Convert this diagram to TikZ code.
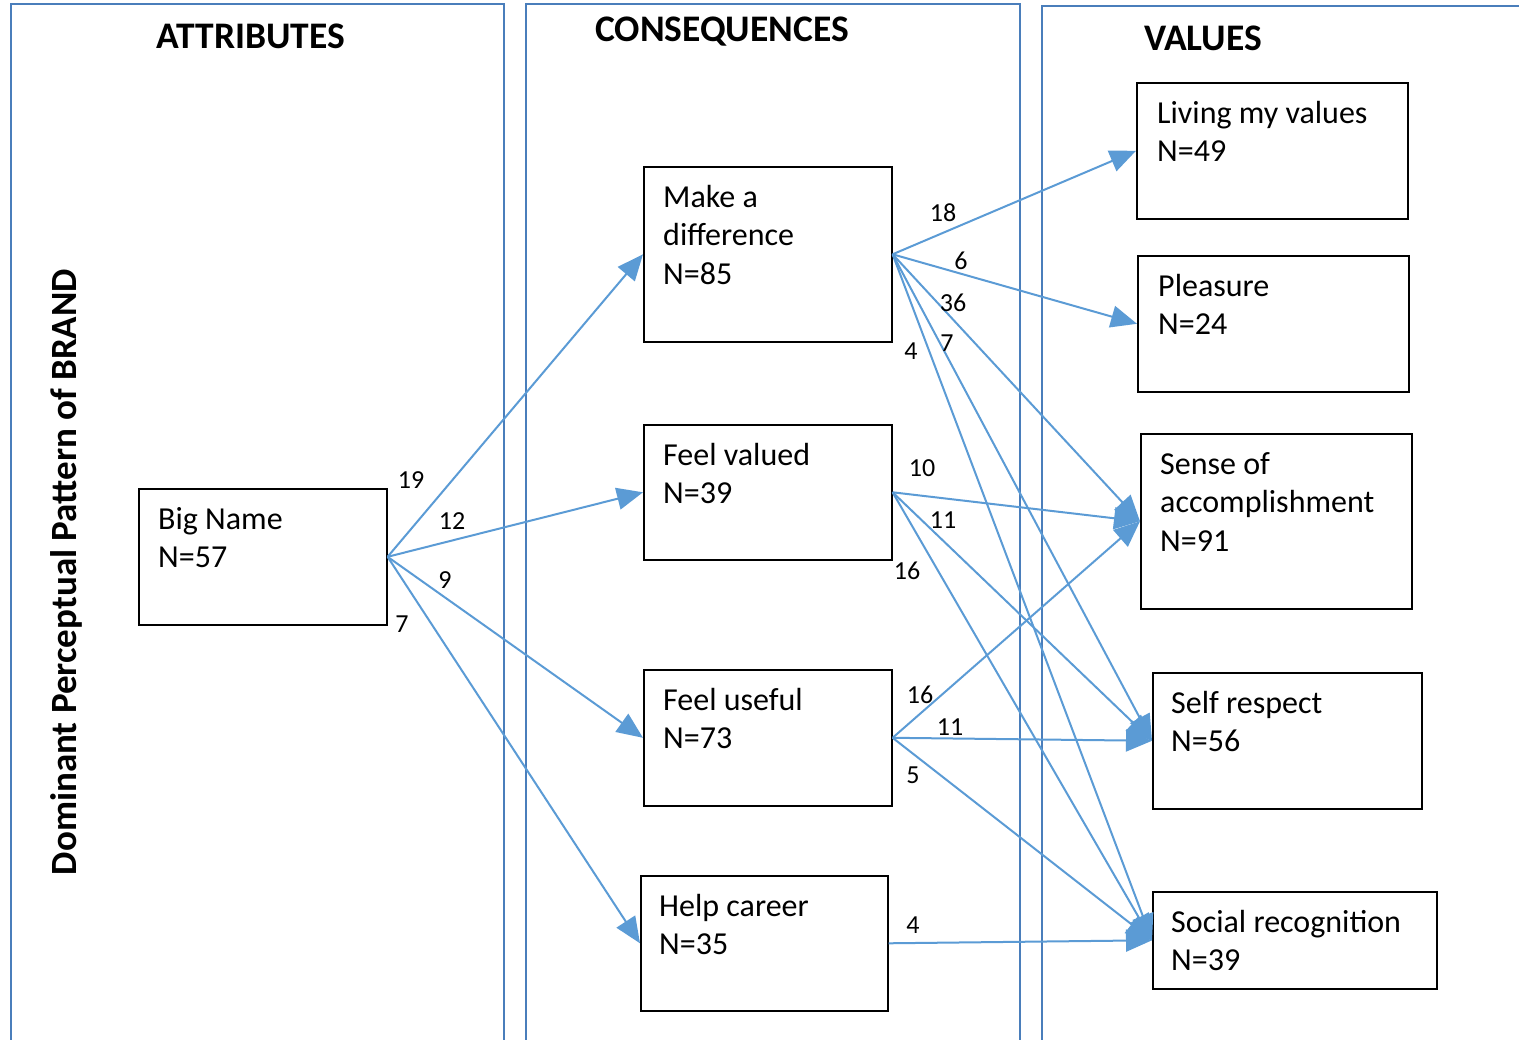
\documentclass[tikz,border=0pt]{standalone}
\usepackage{fontspec}
\setmainfont{Carlito}
\usetikzlibrary{arrows.meta,calc}
\definecolor{panelblue}{HTML}{4A7EBB}
\definecolor{arrowblue}{HTML}{5B9BD5}
\begin{document}
\begin{tikzpicture}[x=1pt,y=-1pt,
  panel/.style={draw=panelblue, line width=2.5pt},
  box/.style={draw=black, line width=1.6pt, inner sep=0, anchor=north west},
  boxtext/.style={anchor=north west, inner sep=0, align=left, font=\fontsize{32}{38.5}\selectfont},
  hdr/.style={font=\fontsize{37.5}{42}\selectfont\bfseries, inner sep=0},
  elabel/.style={font=\fontsize{26}{30}\selectfont, inner sep=0},
  conn/.style={draw=arrowblue, line width=2pt, -{Triangle[length=26pt,width=22pt]}}
]
\useasboundingbox (0,0) rectangle (1519,1040);
\clip (0,0) rectangle (1519,1040);
% panels
\draw[panel] (11,1050) -- (11,4) -- (504,4) -- (504,1050);
\draw[panel] (526,1050) -- (526,4) -- (1020,4) -- (1020,1050);
\draw[panel] (1042,1050) -- (1042,6) -- (1530,6);
% headers
\node[hdr] (hA) at (251,36) {ATTRIBUTES};
\node[hdr] (hC) at (722,32) {CONSEQUENCES};
\node[hdr] (hV) at (1203,38) {VALUES};
\node[hdr, font=\fontsize{37}{42}\selectfont\bfseries, rotate=90] (title) at (66,572) {Dominant Perceptual Pattern of BRAND};
% boxes
\node[box, minimum width=248pt, minimum height=136pt] (BN) at (138,488) {};
\node[box, minimum width=248pt, minimum height=175pt] (MD) at (643,166) {};
\node[box, minimum width=248pt, minimum height=135pt] (FV) at (643,424) {};
\node[box, minimum width=248pt, minimum height=136pt] (FU) at (643,669) {};
\node[box, minimum width=247pt, minimum height=135pt] (HC) at (640,875) {};
\node[box, minimum width=271pt, minimum height=136pt] (LV) at (1136,82) {};
\node[box, minimum width=271pt, minimum height=136pt] (PL) at (1137,255) {};
\node[box, minimum width=271pt, minimum height=175pt] (SA) at (1140,433) {};
\node[box, minimum width=269pt, minimum height=136pt] (SR) at (1152,672) {};
\node[box, minimum width=284pt, minimum height=97pt] (SC) at (1152,891) {};
% box texts
\node[boxtext] (BNt) at ($(BN.north west)+(20,14)$) {\strut Big Name\\N=57};
\node[boxtext] (MDt) at ($(MD.north west)+(20,14)$) {\strut Make a\\difference\\N=85};
\node[boxtext] (FVt) at ($(FV.north west)+(20,14)$) {\strut Feel valued\\N=39};
\node[boxtext] (FUt) at ($(FU.north west)+(20,14)$) {\strut Feel useful\\N=73};
\node[boxtext] (HCt) at ($(HC.north west)+(19,14)$) {\strut Help career\\N=35};
\node[boxtext] (LVt) at ($(LV.north west)+(21,14)$) {\strut Living my values\\N=49};
\node[boxtext] (PLt) at ($(PL.north west)+(21,14)$) {\strut Pleasure\\N=24};
\node[boxtext] (SAt) at ($(SA.north west)+(20,14)$) {\strut Sense of\\accomplishment\\N=91};
\node[boxtext] (SRt) at ($(SR.north west)+(19,14)$) {\strut Self respect\\N=56};
\node[boxtext] (SCt) at ($(SC.north west)+(19,14)$) {\strut Social recognition\\N=39};
% connectors
\draw[conn] (BN.east) -- (MD.west);
\draw[conn] (BN.east) -- (FV.west);
\draw[conn] (BN.east) -- (FU.west);
\draw[conn] (BN.east) -- (HC.west);
\draw[conn] (MD.east) -- (LV.west);
\draw[conn] (MD.east) -- (PL.west);
\draw[conn] (MD.east) -- (SA.west);
\draw[conn] (MD.east) -- (SR.west);
\draw[conn] (MD.east) -- (SC.west);
\draw[conn] (FV.east) -- (SA.west);
\draw[conn] (FV.east) -- (SR.west);
\draw[conn] (FV.east) -- (SC.west);
\draw[conn] (FU.east) -- (SA.west);
\draw[conn] (FU.east) -- (SR.west);
\draw[conn] (FU.east) -- (SC.west);
\draw[conn] (HC.east) -- (SC.west);
% edge labels
\node[elabel] (l1) at (411,480) {19};
\node[elabel] (l2) at (452,521) {12};
\node[elabel] (l3) at (445,580) {9};
\node[elabel] (l4) at (402,624) {7};
\node[elabel] (l5) at (943,213) {18};
\node[elabel] (l6) at (961,261) {6};
\node[elabel] (l7) at (953,303) {36};
\node[elabel] (l8) at (947,343) {7};
\node[elabel] (l9) at (911,351) {4};
\node[elabel] (l10) at (922,468) {10};
\node[elabel] (l11) at (943,520) {11};
\node[elabel] (l12) at (907,571) {16};
\node[elabel] (l13) at (920,695) {16};
\node[elabel] (l14) at (950,727) {11};
\node[elabel] (l15) at (913,775) {5};
\node[elabel] (l16) at (913,925) {4};
\end{tikzpicture}
\end{document}
